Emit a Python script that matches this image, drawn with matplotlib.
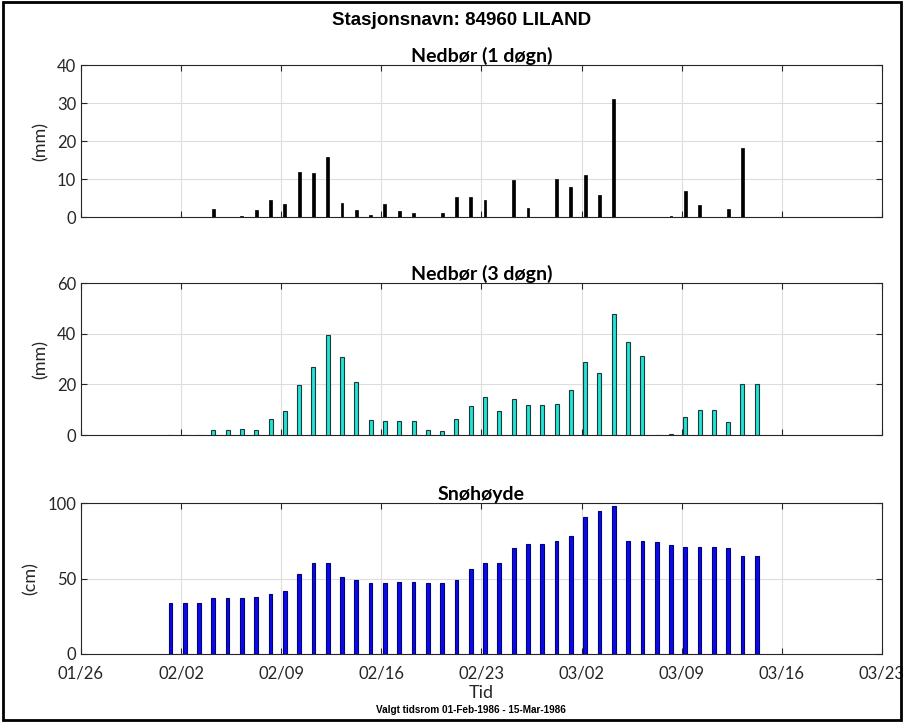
# snow and precipitation overview for one station, three stacked bar panels
import datetime as dt
import matplotlib
matplotlib.use("Agg")
import matplotlib.pyplot as plt
import matplotlib.dates as mdates
from matplotlib.patches import Rectangle

# daily values 01-Feb-1986 .. 14-Mar-1986
start = dt.datetime(1986, 2, 1, 6)
precip_1d = [0, 0, 0, 2.0, 0, 0.3, 1.8, 4.6, 3.5, 11.9, 11.7, 15.9, 3.7, 1.8,
             0.5, 3.5, 1.5, 1.0, 0, 1.1, 5.4, 5.2, 4.6, 0, 9.8, 2.5, 0, 10.0,
             7.9, 11.1, 5.7, 31.1, 0, 0, 0, 0.2, 6.9, 3.2, 0, 2.0, 18.3, 0]
precip_3d = [0, 0, 0, 2.0, 2.0, 2.3, 1.9, 6.4, 9.6, 19.8, 26.8, 39.4, 30.9, 21.0,
             5.8, 5.6, 5.4, 5.5, 1.9, 1.5, 6.3, 11.5, 14.9, 9.6, 14.1, 12.0,
             11.9, 12.3, 17.8, 28.7, 24.5, 47.8, 36.8, 31.3, 0, 0.2, 7.0,
             10.0, 9.9, 5.1, 20.3, 20.3]
snow = [34, 34, 34, 37, 37, 37, 38, 40, 42, 53, 60, 60, 51, 49, 47, 47, 48, 48,
        47, 47, 49, 56, 60, 60, 70, 73, 73, 75, 78, 91, 95, 98, 75, 75, 74, 72,
        71, 71, 71, 70, 65, 65]
dates = [start + dt.timedelta(days=i) for i in range(len(snow))]

titles = ["Nedbør (1 døgn)", "Nedbør (3 døgn)", "Snøhøyde"]
ylabels = ["(mm)", "(mm)", "(cm)"]
yticks = [[0, 10, 20, 30, 40], [0, 20, 40, 60], [0, 50, 100]]

plt.rcParams["font.family"] = ["Lato", "DejaVu Sans"]

fig = plt.figure(figsize=(9.04, 7.22), dpi=100)
fig.patches.append(Rectangle((0.003, 0.003), 0.994, 0.994, transform=fig.transFigure,
                             fill=False, edgecolor="black", linewidth=2))

boxes = [[0.0896, 0.6994, 0.886, 0.2105],
         [0.0896, 0.3975, 0.886, 0.2105],
         [0.0896, 0.0942, 0.886, 0.209]]
series = [precip_1d, precip_3d, snow]
styles = [dict(width=0.2, color="black", edgecolor="black", linewidth=0.5),
          dict(width=0.28, color="#22e3d3", edgecolor="#1a3a3a", linewidth=0.8),
          dict(width=0.26, color="#0a0ae6", edgecolor="#000080", linewidth=0.8)]

for i in range(3):
    ax = fig.add_axes(boxes[i])
    ax.bar(dates, series[i], **styles[i], zorder=3)
    ax.set_xlim(dt.datetime(1986, 1, 26), dt.datetime(1986, 3, 23))
    ax.set_ylim(yticks[i][0], yticks[i][-1])
    ax.set_yticks(yticks[i])
    ax.set_xticks([dt.datetime(1986, 1, 26) + dt.timedelta(days=7 * k) for k in range(9)])
    ax.xaxis.set_major_formatter(mdates.DateFormatter("%m/%d"))
    if i < 2:
        ax.tick_params(labelbottom=False)
    ax.grid(True, color="#dddddd", linewidth=0.8, zorder=0)
    ax.tick_params(direction="in", top=True, right=True, length=4,
                   labelsize=12, colors="#262626", labelcolor="#262626")
    ax.tick_params(axis="x", pad=8)
    for s in ax.spines.values():
        s.set_color("#262626")
        s.set_linewidth(0.8)
    ax.set_title(titles[i], fontsize=14, fontweight="bold", pad=2.5)
    ax.set_ylabel(ylabels[i], fontsize=13, color="#262626", labelpad=6)
    if i == 2:
        ax.set_xlabel("Tid", fontsize=13, color="#262626", labelpad=3)

fig.text(0.511, 0.971, "Stasjonsnavn: 84960 LILAND", ha="center", va="center",
         fontsize=13.5, fontweight="bold", family=["Liberation Sans", "DejaVu Sans"])
fig.text(0.521, 0.017, "Valgt tidsrom 01-Feb-1986 - 15-Mar-1986", ha="center", va="center",
         fontsize=7.2, fontweight="bold",
         family=["Liberation Sans Narrow", "Liberation Sans", "DejaVu Sans"])

fig.savefig("out.png", dpi=100)
